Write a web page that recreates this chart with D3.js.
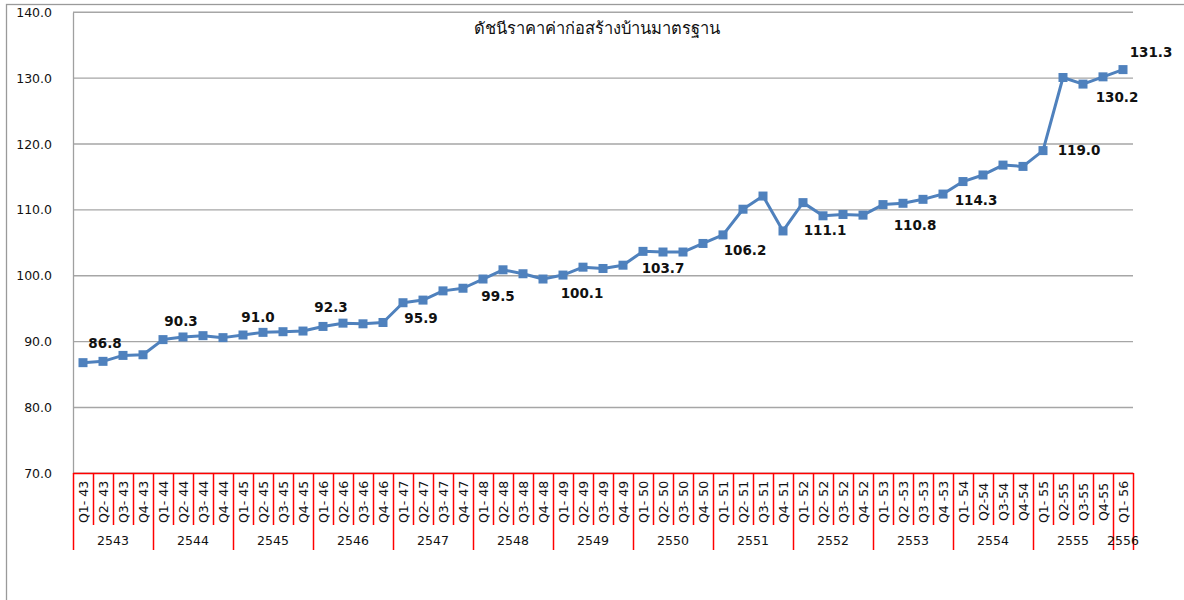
<!DOCTYPE html>
<html>
<head>
<meta charset="utf-8">
<script src="https://cdn.jsdelivr.net/npm/d3@7"></script>
<style>
	body { margin: 0; background: #fff; }
	svg { display: block; }
</style>
</head>
<body>
<div id="chart"></div>
<script>
// data
const title = 'ดัชนีราคาค่าก่อสร้างบ้านมาตรฐาน';
const years = ['2543', '2544', '2545', '2546', '2547', '2548', '2549', '2550', '2551', '2552', '2553', '2554', '2555', '2556'];
const quarters = [
	'Q1- 43', 'Q2- 43', 'Q3- 43', 'Q4- 43',
	'Q1- 44', 'Q2- 44', 'Q3- 44', 'Q4- 44',
	'Q1- 45', 'Q2- 45', 'Q3- 45', 'Q4- 45',
	'Q1- 46', 'Q2- 46', 'Q3- 46', 'Q4- 46',
	'Q1- 47', 'Q2- 47', 'Q3- 47', 'Q4- 47',
	'Q1- 48', 'Q2- 48', 'Q3- 48', 'Q4- 48',
	'Q1- 49', 'Q2- 49', 'Q3- 49', 'Q4- 49',
	'Q1- 50', 'Q2- 50', 'Q3- 50', 'Q4- 50',
	'Q1- 51', 'Q2- 51', 'Q3- 51', 'Q4- 51',
	'Q1- 52', 'Q2- 52', 'Q3- 52', 'Q4- 52',
	'Q1- 53', 'Q2 -53', 'Q3 -53', 'Q4 -53',
	'Q1- 54', 'Q2-54', 'Q3-54', 'Q4-54',
	'Q1- 55', 'Q2-55', 'Q3-55', 'Q4-55',
	'Q1- 56'
];
const index = [
	86.8, 87.0, 87.9, 88.0,
	90.3, 90.7, 90.9, 90.6,
	91.0, 91.4, 91.5, 91.6,
	92.3, 92.8, 92.7, 92.9,
	95.9, 96.3, 97.7, 98.1,
	99.5, 100.9, 100.3, 99.5,
	100.1, 101.3, 101.1, 101.6,
	103.7, 103.6, 103.6, 104.9,
	106.2, 110.1, 112.1, 106.8,
	111.1, 109.1, 109.3, 109.2,
	110.8, 111.0, 111.6, 112.4,
	114.3, 115.3, 116.8, 116.6,
	119.0, 130.1, 129.1, 130.2,
	131.3
];
const yTicks = [70, 80, 90, 100, 110, 120, 130, 140];
// quarters that carry a value label
const labelled = ['Q1- 43', 'Q1- 44', 'Q1- 45', 'Q1- 46', 'Q1- 47', 'Q1- 48', 'Q1- 49', 'Q1- 50',
	'Q1- 51', 'Q1- 52', 'Q1- 53', 'Q1- 54', 'Q1- 55', 'Q4-55', 'Q1- 56'];

// label nudges (layout only), same order as labelled
const nudge = [[22, -19], [18, -18], [15, -18], [8, -19], [18, 16], [15, 17], [19, 18], [20, 17],
	[22, 15], [22, 28], [32, 21], [13, 19], [36, 0], [14, 20], [28, -17]];

const W = 1184, H = 600;
const font = "'DejaVu Sans', Verdana, sans-serif";
const blue = '#4f81bd';

const svg = d3.select('#chart').append('svg')
	.attr('width', W)
	.attr('height', H);

// outer chart frame (runs off the right / bottom edge)
svg.append('rect')
	.attr('x', 6.5).attr('y', 4.5)
	.attr('width', W + 20).attr('height', H + 20)
	.attr('fill', 'none')
	.attr('stroke', '#9a9a9a')
	.attr('stroke-width', 1.3);

var x = d3.scaleBand().domain(quarters).range([73, 1133]).padding(0);
var y = d3.scaleLinear().domain([70, 140]).range([473.3, 12.3]);

// gridlines
svg.append('g')
	.selectAll('line')
	.data(yTicks)
	.enter()
	.append('line')
	.attr('x1', 73).attr('x2', 1133)
	.attr('y1', (d) => y(d)).attr('y2', (d) => y(d))
	.attr('stroke', '#a6a6a6')
	.attr('stroke-width', 1.4);

// y axis
var yAxis = svg.append('g')
	.attr('transform', 'translate(73,0)')
	.call(d3.axisLeft(y).tickValues(yTicks).tickFormat(d3.format('.1f')).tickSize(0).tickPadding(21));
yAxis.select('.domain').attr('stroke', '#a0a0a0').attr('stroke-width', 1.3);
yAxis.selectAll('text')
	.attr('font-family', font)
	.attr('font-size', 12.5)
	.attr('fill', '#111');

// category axis in red
var xa = svg.append('g');
xa.append('line')
	.attr('x1', 73).attr('x2', 1133.5)
	.attr('y1', 473.5).attr('y2', 473.5)
	.attr('stroke', '#ff0000').attr('stroke-width', 1.5);

var bounds = d3.range(quarters.length + 1);
xa.selectAll('line.sep')
	.data(bounds)
	.enter()
	.append('line')
	.attr('class', 'sep')
	.attr('x1', (k) => Math.round(73 + k * x.step()) + 0.5)
	.attr('x2', (k) => Math.round(73 + k * x.step()) + 0.5)
	.attr('y1', 473)
	.attr('y2', (k) => (k % 4 === 0 || k === quarters.length) ? 550 : 525)
	.attr('stroke', '#ff0000')
	.attr('stroke-width', 1.5);

var xt = svg.append('g');
xt.selectAll('text.q')
	.data(quarters)
	.enter()
	.append('text')
	.attr('class', 'q')
	.attr('transform', (d) => 'translate(' + (x(d) + x.bandwidth() / 2 + 4.5) + ',502) rotate(-90)')
	.attr('text-anchor', 'middle')
	.attr('font-family', font)
	.attr('font-size', 12.5)
	.attr('fill', '#111')
	.text((d) => d);

xt.selectAll('text.yr')
	.data(years)
	.enter()
	.append('text')
	.attr('class', 'yr')
	.attr('x', (d, i) => {
		var qs = quarters.slice(i * 4, i * 4 + 4);
		return (x(qs[0]) + x(qs[qs.length - 1]) + x.bandwidth()) / 2;
	})
	.attr('y', 545)
	.attr('text-anchor', 'middle')
	.attr('font-family', font)
	.attr('font-size', 12.5)
	.attr('fill', '#111')
	.text((d) => d);

// title
svg.append('text')
	.attr('x', 597)
	.attr('y', 34)
	.attr('text-anchor', 'middle')
	.attr('font-family', "Tahoma, 'DejaVu Sans', 'Noto Sans', sans-serif")
	.attr('font-size', 16.5)
	.attr('fill', '#111')
	.text(title);

// series
var pts = quarters.map((q, i) => ({ q: q, v: index[i] }));
var cx = (d) => x(d.q) + x.bandwidth() / 2;

svg.append('path')
	.datum(pts)
	.attr('fill', 'none')
	.attr('stroke', blue)
	.attr('stroke-width', 3)
	.attr('stroke-linejoin', 'round')
	.attr('d', d3.line().x(cx).y((d) => y(d.v)));

svg.append('g')
	.selectAll('rect')
	.data(pts)
	.enter()
	.append('rect')
	.attr('x', (d) => cx(d) - 4.5)
	.attr('y', (d) => y(d.v) - 4.5)
	.attr('width', 9)
	.attr('height', 9)
	.attr('fill', blue);

// value labels
svg.append('g')
	.selectAll('text')
	.data(labelled)
	.enter()
	.append('text')
	.attr('x', (q, i) => x(q) + x.bandwidth() / 2 + nudge[i][0])
	.attr('y', (q, i) => y(index[quarters.indexOf(q)]) + nudge[i][1])
	.attr('dy', '0.35em')
	.attr('text-anchor', 'middle')
	.attr('font-family', font)
	.attr('font-size', 13.5)
	.attr('font-weight', 'bold')
	.attr('fill', '#111')
	.text((q) => d3.format('.1f')(index[quarters.indexOf(q)]));
</script>
</body>
</html>
